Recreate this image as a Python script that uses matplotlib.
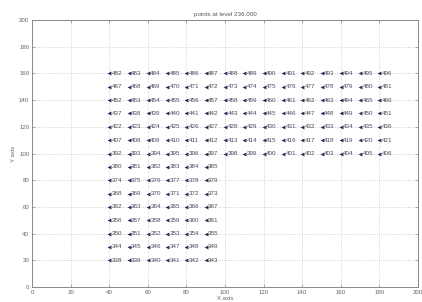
import matplotlib
matplotlib.use("Agg")
import matplotlib.pyplot as plt

# Point grid: each row y-value with x positions and labels
x_wide = [40, 50, 60, 70, 80, 90, 100, 110, 120, 130, 140, 150, 160, 170, 180]
x_narrow = [40, 50, 60, 70, 80, 90]

rows_wide = {
    160: [482, 483, 484, 485, 486, 487, 488, 489, 490, 491, 492, 493, 494, 495, 496],
    150: [467, 468, 469, 470, 471, 472, 473, 474, 475, 476, 477, 478, 479, 480, 481],
    140: [452, 453, 454, 455, 456, 457, 458, 459, 460, 461, 462, 463, 464, 465, 466],
    130: [437, 438, 439, 440, 441, 442, 443, 444, 445, 446, 447, 448, 449, 450, 451],
    120: [422, 423, 424, 425, 426, 427, 428, 429, 430, 431, 432, 433, 434, 435, 436],
    110: [407, 408, 409, 410, 411, 412, 413, 414, 415, 416, 417, 418, 419, 420, 421],
    100: [392, 393, 394, 395, 396, 397, 398, 399, 400, 401, 402, 403, 404, 405, 406],
}
rows_narrow = {
    90: [380, 381, 382, 383, 384, 385],
    80: [374, 375, 376, 377, 378, 379],
    70: [368, 369, 370, 371, 372, 373],
    60: [362, 363, 364, 365, 366, 367],
    50: [356, 357, 358, 359, 360, 361],
    40: [350, 351, 352, 353, 354, 355],
    30: [344, 345, 346, 347, 348, 349],
    20: [338, 339, 340, 341, 342, 343],
}

title = "points at level 236.000"
xticks = [0, 20, 40, 60, 80, 100, 120, 140, 160, 180, 200]
yticks = [0, 20, 40, 60, 80, 100, 120, 140, 160, 180, 200]

plt.rcParams['font.family'] = ['Liberation Sans', 'DejaVu Sans']
fig = plt.figure(figsize=(4.22, 3.02), dpi=100)
ax = fig.add_axes([32/422, 1-287/302, (418-32)/422, (287-20)/302])

def draw(rows, xs):
    for yv, labels in rows.items():
        ys = [yv] * len(xs)
        ax.plot(xs, ys, linestyle='none', marker='<', markersize=2.8,
                color='#262b58', markeredgewidth=0)
        for xv, lab in zip(xs, labels):
            ax.text(xv + 1.3, yv, str(lab), fontsize=4.5, color='#4a4a55',
                    va='center', ha='left')

draw(rows_wide, x_wide)
draw(rows_narrow, x_narrow)

ax.set_xlim(0, 200)
ax.set_ylim(0, 200)
ax.set_xticks(xticks)
ax.set_yticks(yticks)
ax.grid(True, linestyle=':', color='#c4c4c4', linewidth=0.6)
ax.tick_params(direction='in', length=2.5, width=0.5, colors='#888888',
               labelsize=4.4, labelcolor='#666666', top=True, right=True, pad=2)
for s in ax.spines.values():
    s.set_color('#888888')
    s.set_linewidth(0.7)
ax.set_title(title, fontsize=4.5, color='#555555', pad=3)
ax.set_xlabel("X axis", fontsize=4.3, color='#666666', labelpad=1)
ax.set_ylabel("Y axis", fontsize=4.3, color='#666666', labelpad=2)

fig.savefig("out.png", dpi=100)
